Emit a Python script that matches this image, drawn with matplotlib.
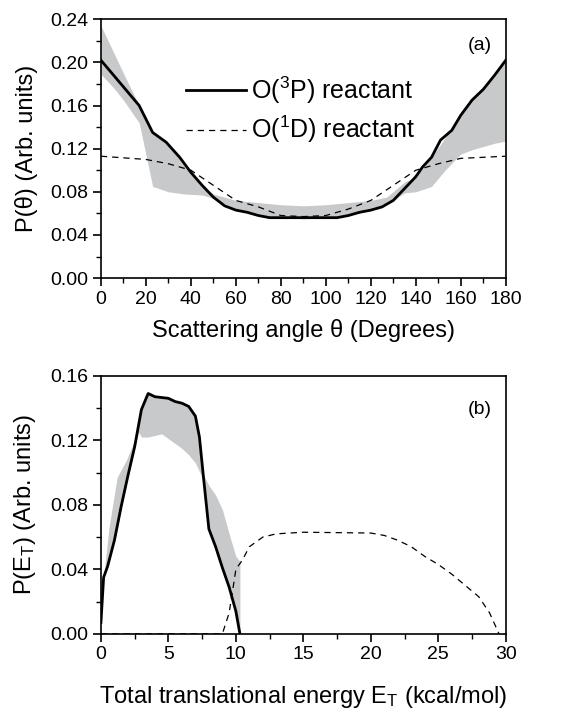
import matplotlib
matplotlib.use('Agg')
import matplotlib.pyplot as plt
from matplotlib.ticker import MultipleLocator

plt.rcParams['font.family'] = ['Liberation Sans', 'DejaVu Sans']
plt.rcParams['mathtext.fontset'] = 'custom'
plt.rcParams['mathtext.rm'] = 'Liberation Sans'
plt.rcParams['mathtext.it'] = 'Liberation Sans'

# (a) angular distributions
theta = [0, 17, 23, 29, 35, 40, 45, 50, 55, 60, 65, 70, 75, 80, 90, 100, 105,
         110, 115, 120, 125, 130, 135, 140, 143, 147, 151, 156, 160, 165, 170, 175, 180]
p_3p = [0.202, 0.160, 0.135, 0.126, 0.112, 0.098, 0.086, 0.075, 0.067, 0.063, 0.061,
        0.058, 0.056, 0.056, 0.056, 0.056, 0.056, 0.058, 0.061, 0.063, 0.066, 0.072,
        0.083, 0.094, 0.103, 0.112, 0.128, 0.137, 0.151, 0.165, 0.175, 0.188, 0.202]

theta_1d = [0, 20, 30, 40, 50, 60, 70, 80, 90, 100, 110, 120, 130, 140, 150, 160, 180]
p_1d = [0.113, 0.110, 0.106, 0.100, 0.086, 0.072, 0.066, 0.058, 0.057, 0.058, 0.064,
        0.072, 0.086, 0.100, 0.106, 0.111, 0.113]

theta_band = [0, 5, 10, 17, 23, 30, 37, 45, 50, 60, 70, 80, 90, 100, 110, 120, 127,
              135, 140, 147, 153, 160, 165, 170, 175, 180]
band_a_hi = [0.234, 0.212, 0.190, 0.160, 0.135, 0.124, 0.104, 0.086, 0.078, 0.072,
             0.070, 0.068, 0.067, 0.068, 0.070, 0.072, 0.075, 0.089, 0.094, 0.112,
             0.130, 0.151, 0.165, 0.175, 0.188, 0.202]
band_a_lo = [0.189, 0.178, 0.165, 0.144, 0.085, 0.080, 0.078, 0.077, 0.074, 0.064,
             0.058, 0.056, 0.055, 0.056, 0.058, 0.063, 0.068, 0.079, 0.080, 0.085,
             0.100, 0.115, 0.119, 0.122, 0.125, 0.127]

# (b) translational energy distributions
e_3p = [0, 0.2, 0.5, 1.0, 1.5, 2.0, 2.5, 3.0, 3.5, 4.0, 5.0, 5.5, 6.0, 6.5, 7.0,
        7.3, 7.6, 8.0, 8.5, 9.0, 9.5, 10.0, 10.3]
pe_3p = [0.007, 0.035, 0.042, 0.058, 0.079, 0.098, 0.116, 0.139, 0.149, 0.147, 0.146,
         0.144, 0.143, 0.141, 0.135, 0.122, 0.097, 0.065, 0.054, 0.041, 0.029, 0.014, 0.0]

e_1d = [0, 9.0, 9.5, 9.8, 10.0, 10.5, 11, 12, 13, 15, 20, 21, 22, 23, 24, 25, 26,
        27, 28, 28.8, 29.5]
pe_1d = [0.0, 0.0, 0.013, 0.029, 0.040, 0.046, 0.054, 0.060, 0.062, 0.063, 0.0625,
         0.061, 0.058, 0.054, 0.048, 0.043, 0.037, 0.030, 0.023, 0.013, 0.0]

e_band = [0, 0.2, 0.6, 1.2, 1.9, 2.5, 2.8, 3.0, 3.5, 4.0, 4.5, 5.0, 5.5, 6.0, 6.5,
          7.0, 7.5, 8.0, 8.5, 9.0, 9.5, 10.0, 10.3]
band_b_hi = [0.007, 0.035, 0.066, 0.097, 0.108, 0.120, 0.127, 0.139, 0.149, 0.147,
             0.146, 0.146, 0.144, 0.143, 0.141, 0.135, 0.100, 0.092, 0.086, 0.077,
             0.062, 0.048, 0.045]
band_b_lo = [0.007, 0.035, 0.045, 0.065, 0.094, 0.116, 0.125, 0.122, 0.122, 0.123,
             0.124, 0.121, 0.118, 0.115, 0.111, 0.106, 0.097, 0.065, 0.054, 0.041,
             0.029, 0.014, 0.0]

gray = '#c8c9cb'
dash = (0, (5, 4))

fig = plt.figure(figsize=(5.67, 7.13), dpi=100)
ax1 = fig.add_axes([0.178, 0.610, 0.714, 0.363])
ax2 = fig.add_axes([0.178, 0.111, 0.714, 0.362])


def style(ax):
    for s in ax.spines.values():
        s.set_linewidth(1.2)
    ax.tick_params(which='major', direction='out', length=6, width=1.2,
                   labelsize=14, pad=3)
    ax.tick_params(which='minor', direction='out', length=3.5, width=1.0)
    ax.tick_params(which='both', top=False, right=False)


# top panel
ax1.fill_between(theta_band, band_a_lo, band_a_hi, color=gray, lw=0)
ax1.plot(theta, p_3p, color='black', lw=2.0, label='O($^3$P) reactant')
ax1.plot(theta_1d, p_1d, color='black', lw=0.9, ls=dash, label='O($^1$D) reactant')
ax1.set_xlim(0, 180)
ax1.set_ylim(0, 0.24)
ax1.xaxis.set_major_locator(MultipleLocator(20))
ax1.xaxis.set_minor_locator(MultipleLocator(10))
ax1.yaxis.set_major_locator(MultipleLocator(0.04))
ax1.yaxis.set_minor_locator(MultipleLocator(0.02))
ax1.set_yticklabels([f'{v:.2f}' for v in ax1.get_yticks()])
style(ax1)
ax1.set_xlabel('Scattering angle θ (Degrees)', fontsize=17, labelpad=8)
ax1.set_ylabel('P(θ) (Arb. units)', fontsize=17, labelpad=9)
ax1.text(0.965, 0.9, '(a)', transform=ax1.transAxes, fontsize=14, ha='right', va='center')
ax1.legend(loc='upper left', bbox_to_anchor=(0.18, 0.835), frameon=False, fontsize=18,
           handlelength=2.4, handletextpad=0.2, labelspacing=0.32, borderpad=0)

# bottom panel
ax2.fill_between(e_band, band_b_lo, band_b_hi, color=gray, lw=0)
ax2.plot(e_3p, pe_3p, color='black', lw=2.0)
ax2.plot(e_1d, pe_1d, color='black', lw=0.9, ls=dash)
ax2.set_xlim(0, 30)
ax2.set_ylim(0, 0.16)
ax2.xaxis.set_major_locator(MultipleLocator(5))
ax2.xaxis.set_minor_locator(MultipleLocator(2.5))
ax2.yaxis.set_major_locator(MultipleLocator(0.04))
ax2.yaxis.set_minor_locator(MultipleLocator(0.02))
ax2.set_yticklabels([f'{v:.2f}' for v in ax2.get_yticks()])
style(ax2)
ax2.set_xlabel('Total translational energy E$_{\\mathrm{T}}$ (kcal/mol)', fontsize=17, labelpad=15)
ax2.set_ylabel('P(E$_{\\mathrm{T}}$) (Arb. units)', fontsize=17, labelpad=9)
ax2.text(0.965, 0.87, '(b)', transform=ax2.transAxes, fontsize=14, ha='right', va='center')

fig.savefig('out.png', dpi=100)
